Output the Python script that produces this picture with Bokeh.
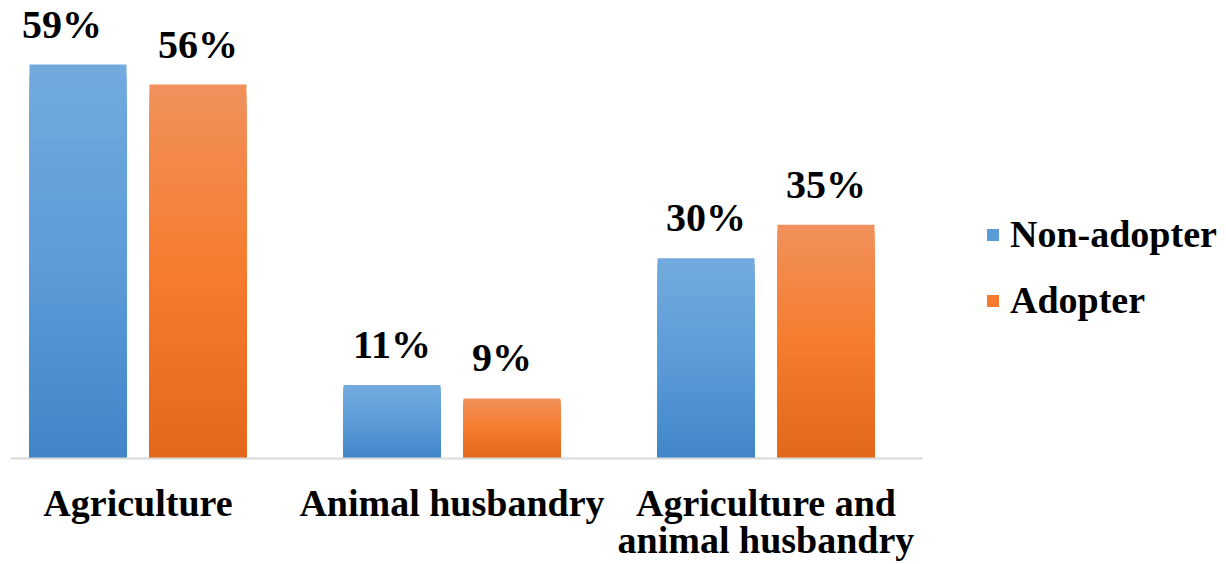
from bokeh.plotting import figure
from bokeh.models import (ColumnDataSource, LabelSet, FixedTicker, Legend, LegendItem,
                          Range1d)
from bokeh.transform import dodge
from bokeh.embed import file_html
from bokeh.resources import INLINE

# ---- data ----
categories = ["Agriculture", "Animal husbandry", "Agriculture and\nanimal husbandry"]
series_names = ["Non-adopter", "Adopter"]
non_adopter = [59, 11, 30]
adopter = [56, 9, 35]

FONT = "Liberation Serif"
W, H = 1226, 564
PX_PER_CAT = 314.0
X0 = -0.406

p = figure(width=W, height=H, output_backend="svg", toolbar_location=None,
           x_range=Range1d(X0, X0 + (W - 10) / PX_PER_CAT), y_range=Range1d(0, 68.6),
           min_border_left=10, min_border_right=0, min_border_top=0, min_border_bottom=0)
p.outline_line_color = None
p.background_fill_color = "white"
p.border_fill_color = "white"
p.xgrid.visible = False
p.ygrid.visible = False
p.yaxis.visible = False

xs = list(range(len(categories)))

def lerp(c1, c2, t):
    return "#%02x%02x%02x" % tuple(int(round(a + (b - a) * t)) for a, b in zip(c1, c2))

def grad(stops, t):
    if t <= 0.5:
        return lerp(stops[0], stops[1], t / 0.5)
    return lerp(stops[1], stops[2], (t - 0.5) / 0.5)

blue_stops = [(114, 170, 222), (91, 156, 216), (66, 134, 200)]
orange_stops = [(241, 144, 90), (245, 125, 46), (226, 105, 26)]

N = 40
bar_w = 0.309
off = 0.191

legend_renderers = []
for vals, stops, dx in [(non_adopter, blue_stops, -off), (adopter, orange_stops, off)]:
    for k in range(N):
        frac = (N - k) / N
        src = ColumnDataSource(dict(x=xs, top=[v * frac for v in vals]))
        r = p.vbar(x=dodge("x", dx, range=p.x_range), top="top", bottom=0, width=bar_w, source=src,
                   fill_color=grad(stops, k / (N - 1)), line_color=None)
        if k == N // 2:
            legend_renderers.append(r)

# value labels
for vals, dx, xo in [(non_adopter, -off, [-16, 0, 0]), (adopter, off, [0, -10, 0])]:
    src = ColumnDataSource(dict(x=xs, y=vals, t=[f"{v}%" for v in vals], xo=xo))
    p.add_layout(LabelSet(x=dodge("x", dx, range=p.x_range), y="y", text="t", source=src,
                          x_offset="xo",
                          text_align="center", text_baseline="alphabetic", y_offset=27,
                          text_font=FONT, text_font_style="bold", text_font_size="40px",
                          text_color="black"))

# axis
ax = p.xaxis[0]
ax.ticker = FixedTicker(ticks=xs)
ax.bounds = (X0, X0 + 912 / PX_PER_CAT)
ax.major_label_overrides = {i: c for i, c in enumerate(categories)}
ax.major_tick_line_color = None
ax.minor_tick_line_color = None
ax.axis_line_color = "#d9d9d9"
ax.axis_line_width = 2
ax.major_label_text_font = FONT
ax.major_label_text_font_style = "bold"
ax.major_label_text_font_size = "38px"
ax.major_label_text_color = "black"
ax.major_label_standoff = 17
ax.major_label_text_line_height = 0.9

# legend
legend = Legend(items=[LegendItem(label=series_names[0], renderers=[legend_renderers[0]]),
                       LegendItem(label=series_names[1], renderers=[legend_renderers[1]])],
                location=(975, 136), orientation="vertical",
                glyph_width=15, glyph_height=15, label_standoff=10, spacing=22,
                label_text_font=FONT, label_text_font_style="bold",
                label_text_font_size="38px", label_text_color="black",
                background_fill_alpha=0, border_line_color=None, padding=0, margin=0)
p.add_layout(legend, "center")

open("out.html", "w").write(file_html(p, INLINE))
